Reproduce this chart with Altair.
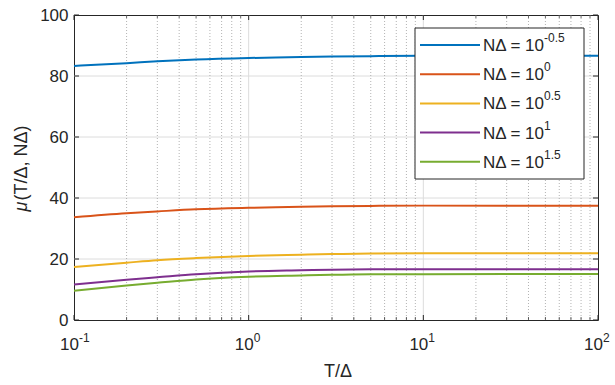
import altair as alt
import pandas as pd

# ---- data ----
t_vals = [0.1, 0.2, 0.3, 0.5, 1, 2, 3, 5, 10, 30, 100]
mu_m05 = [83.3, 84.2, 84.8, 85.4, 85.9, 86.2, 86.4, 86.5, 86.6, 86.6, 86.6]
mu_0 = [33.7, 35.0, 35.6, 36.3, 36.8, 37.1, 37.3, 37.4, 37.5, 37.5, 37.5]
mu_05 = [17.4, 18.8, 19.6, 20.3, 21.0, 21.4, 21.6, 21.8, 21.9, 21.9, 21.9]
mu_1 = [11.6, 13.2, 14.0, 15.0, 15.9, 16.3, 16.5, 16.6, 16.6, 16.6, 16.6]
mu_15 = [9.6, 11.3, 12.2, 13.3, 14.2, 14.6, 14.8, 15.0, 15.0, 15.1, 15.1]

exponents = ["-0.5", "0", "0.5", "1", "1.5"]
colors = ["#0072BD", "#D95319", "#EDB120", "#7E2F8E", "#77AC30"]
series_vals = [mu_m05, mu_0, mu_05, mu_1, mu_15]

major_x = [0.1, 1, 10, 100]
major_x_exp = ["-1", "0", "1", "2"]
minor_x = [m * d for d in [0.1, 1, 10] for m in range(2, 10)]
y_ticks = [0, 20, 40, 60, 80, 100]
y_grid = [20, 40, 60, 80]

W, H = 524, 305
FONT = "Liberation Sans"
TXT = "#262626"

rows = []
for e, vals in zip(exponents, series_vals):
    for t, v in zip(t_vals, vals):
        rows.append({"t": t, "mu": v, "series": e})
df = pd.DataFrame(rows)

xs = alt.Scale(type="log", domain=[0.1, 100], nice=False)
ys = alt.Scale(domain=[0, 100], nice=False)

YAX = alt.Axis(values=y_ticks, grid=False, ticks=False,
               domain=False, labelPadding=6, labelFontSize=17,
               labelFont=FONT, labelColor=TXT)


def X(field):
    return alt.X(field, scale=xs, axis=None)


def Y(field):
    return alt.Y(field, scale=ys, axis=YAX, title="")


minor_grid = alt.Chart(pd.DataFrame({"v": minor_x})).mark_rule(
    color="#a0a0a0", strokeDash=[1, 2], strokeWidth=0.8
).encode(x=X("v:Q"))

major_grid = alt.Chart(pd.DataFrame({"v": [1, 10]})).mark_rule(
    color="#dcdcdc", strokeWidth=1
).encode(x=X("v:Q"))

h_grid = alt.Chart(pd.DataFrame({"v": y_grid})).mark_rule(
    color="#dcdcdc", strokeWidth=1
).encode(y=Y("v:Q"))

lines = alt.Chart(df).mark_line(strokeWidth=2, interpolate="monotone").encode(
    x=X("t:Q"),
    y=Y("mu:Q"),
    color=alt.Color("series:N", scale=alt.Scale(domain=exponents, range=colors),
                    legend=None),
)

# inward ticks
yt = pd.DataFrame({"v": y_ticks})
ytick_l = alt.Chart(yt).mark_rule(color=TXT).encode(
    y=Y("v:Q"), x=alt.value(0), x2=alt.value(5))
ytick_r = alt.Chart(yt).mark_rule(color=TXT).encode(
    y=Y("v:Q"), x=alt.value(W - 5), x2=alt.value(W))
xt_major = pd.DataFrame({"v": major_x, "base": "10", "sup": major_x_exp})
xt_minor = pd.DataFrame({"v": minor_x})
xtick_b = alt.Chart(xt_major).mark_rule(color=TXT).encode(
    x=X("v:Q"), y=alt.value(H - 5), y2=alt.value(H))
xtick_t = alt.Chart(xt_major).mark_rule(color=TXT).encode(
    x=X("v:Q"), y=alt.value(0), y2=alt.value(5))
xmtick_b = alt.Chart(xt_minor).mark_rule(color=TXT, strokeWidth=0.7).encode(
    x=X("v:Q"), y=alt.value(H - 3), y2=alt.value(H))
xmtick_t = alt.Chart(xt_minor).mark_rule(color=TXT, strokeWidth=0.7).encode(
    x=X("v:Q"), y=alt.value(0), y2=alt.value(3))

# x tick labels 10^k
xlab_base = alt.Chart(xt_major).mark_text(
    align="right", baseline="middle", fontSize=17, font=FONT, color=TXT, dx=5
).encode(x=X("v:Q"), y=alt.value(H + 25), text="base:N")
xlab_sup = alt.Chart(xt_major).mark_text(
    align="left", baseline="middle", fontSize=12, font=FONT, color=TXT, dx=5
).encode(x=X("v:Q"), y=alt.value(H + 18), text="sup:N")

# axis titles
xtitle = alt.Chart(pd.DataFrame({"s": ["T/Δ"]})).mark_text(
    align="center", baseline="middle", fontSize=18, font=FONT, color=TXT
).encode(x=alt.value(W / 2 + 2), y=alt.value(H + 52), text="s:N")
ytitle_mu = alt.Chart(pd.DataFrame({"s": ["μ"]})).mark_text(
    align="left", baseline="middle", fontSize=18, font=FONT, color=TXT,
    fontStyle="italic", angle=270
).encode(x=alt.value(-52), y=alt.value(H / 2 + 44), text="s:N")
ytitle_rest = alt.Chart(pd.DataFrame({"s": ["(T/Δ, NΔ)"]})).mark_text(
    align="left", baseline="middle", fontSize=18, font=FONT, color=TXT,
    angle=270
).encode(x=alt.value(-52), y=alt.value(H / 2 + 33), text="s:N")

# manual legend (layout in pixels)
bx0, bx1, by0, by1 = 341, 510, 13, 164
row_y0, row_dy = 30, 29.2
leg = pd.DataFrame({
    "series": exponents,
    "py": [row_y0 + i * row_dy for i in range(len(exponents))],
})
leg["lx0"] = bx0 + 5
leg["lx1"] = bx0 + 65
leg["tx"] = bx0 + 68
leg["ty"] = leg["py"] + 1
leg["sx"] = bx0 + 129
leg["sy"] = leg["py"] - 7
leg["main"] = "NΔ = 10"

box = alt.Chart(pd.DataFrame({"a": [0]})).mark_rect(
    fill="white", stroke=TXT, strokeWidth=1
).encode(x=alt.value(bx0), x2=alt.value(bx1), y=alt.value(by0), y2=alt.value(by1))

leg_lines = alt.Chart(leg).mark_rule(strokeWidth=2).encode(
    x=alt.X("lx0:Q", scale=None), x2="lx1:Q",
    y=alt.Y("py:Q", scale=None),
    color=alt.Color("series:N", scale=alt.Scale(domain=exponents, range=colors),
                    legend=None),
)
leg_text = alt.Chart(leg).mark_text(
    align="left", baseline="middle", fontSize=17, font=FONT, color=TXT
).encode(x=alt.X("tx:Q", scale=None), y=alt.Y("ty:Q", scale=None), text="main:N")
leg_sup = alt.Chart(leg).mark_text(
    align="left", baseline="middle", fontSize=12, font=FONT, color=TXT
).encode(x=alt.X("sx:Q", scale=None), y=alt.Y("sy:Q", scale=None), text="series:N")

chart = alt.layer(
    h_grid, minor_grid, major_grid, lines,
    ytick_l, ytick_r, xtick_b, xtick_t, xmtick_b, xmtick_t,
    xlab_base, xlab_sup, xtitle, ytitle_mu, ytitle_rest,
    box, leg_lines, leg_text, leg_sup,
).properties(
    width=W, height=H,
    padding={"left": 74, "top": 15, "right": 17, "bottom": 65},
    autosize=alt.AutoSizeParams(type="none"),
    background="white",
).configure_view(stroke=TXT, strokeWidth=1)

chart.save("out.html", embed_options={"renderer": "svg", "actions": False})
